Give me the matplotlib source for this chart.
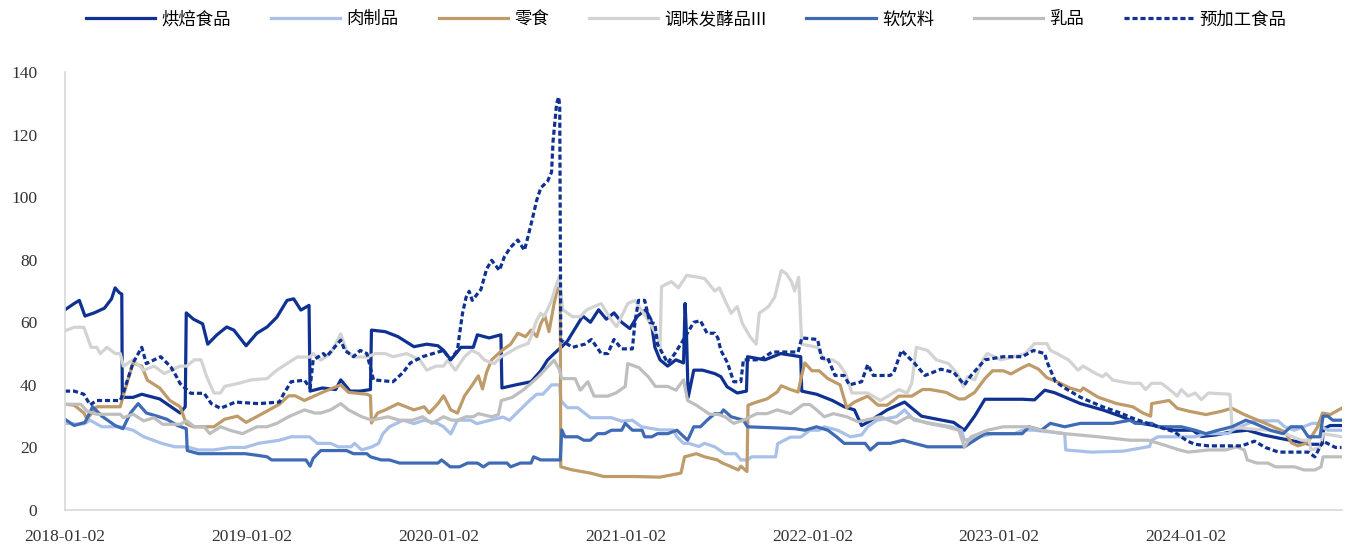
import matplotlib
matplotlib.use("Agg")
import matplotlib.pyplot as plt
import matplotlib.dates as mdates
import pandas as pd

# ---------------- data ----------------
bakery = [("2018-01-02",64),("2018-01-20",66),("2018-01-30",67),("2018-02-10",62),("2018-02-28",63),
("2018-03-20",64.5),("2018-04-03",67.5),("2018-04-10",71),("2018-04-18",69.5),("2018-04-23",69),("2018-04-24",36),
("2018-05-15",36),("2018-06-01",37),("2018-07-06",35.5),("2018-08-15",31),("2018-08-25",33),("2018-08-27",63),
("2018-09-10",61),("2018-09-28",59.5),("2018-10-08",53),("2018-10-26",56),("2018-11-14",58.5),("2018-11-28",57.5),
("2018-12-22",52.5),("2019-01-12",56.5),("2019-02-01",58.5),("2019-02-20",61.6),("2019-03-12",67),("2019-03-25",67.5),
("2019-04-08",63.9),("2019-04-24",65.4),("2019-04-26",38),("2019-05-20",39),("2019-06-15",38.5),("2019-06-25",41.6),
("2019-07-13",38),("2019-08-02",38),("2019-08-22",38.5),("2019-08-24",57.5),("2019-09-20",57),("2019-10-15",55.4),
("2019-11-15",52.2),("2019-12-10",53),("2020-01-01",52.5),("2020-01-12",51),("2020-01-26",48),("2020-02-15",52),
("2020-03-10",52),("2020-03-18",56),("2020-04-10",55),("2020-05-03",56),("2020-05-05",39),("2020-06-01",40),
("2020-07-01",41),("2020-07-20",44.5),("2020-08-02",47.9),("2020-08-15",50),("2020-08-30",52.2),("2020-09-10",54),
("2020-09-25",58),("2020-10-10",62),("2020-10-25",60),("2020-11-10",64),("2020-11-25",61),("2020-12-10",63),
("2020-12-25",60),("2021-01-10",58),("2021-01-25",62),("2021-02-10",64),("2021-02-20",61),("2021-02-28",52),
("2021-03-10",48),("2021-03-25",46),("2021-04-10",48),("2021-04-25",47),("2021-04-28",66),("2021-05-01",55),
("2021-05-04",36),("2021-05-15",44.7),("2021-06-01",44.7),("2021-06-25",43.6),("2021-07-07",42.6),("2021-07-19",39.4),
("2021-08-08",37.4),("2021-08-26",38),("2021-08-28",49),("2021-10-01",48),("2021-11-01",50),("2021-12-10",49),
("2021-12-12",38),("2022-01-10",37),("2022-02-10",35),("2022-03-05",33),("2022-03-25",32),("2022-04-08",27),
("2022-04-25",28.5),("2022-05-28",32),("2022-07-01",34.5),("2022-08-03",30),("2022-09-03",29),("2022-10-05",28),
("2022-10-26",25.5),("2022-11-15",30),("2022-12-05",35.4),("2023-02-16",35.4),("2023-03-12",35.2),("2023-04-01",38.3),
("2023-04-20",37.5),("2023-06-10",34),("2023-07-23",32),("2023-08-27",30),("2023-09-25",28),("2023-11-01",27),
("2023-12-10",25.5),("2024-01-15",25.5),("2024-02-01",23.5),("2024-03-01",24),("2024-04-01",25),("2024-05-01",25.5),
("2024-06-01",24),("2024-07-01",23),("2024-08-01",22),("2024-09-01",21),("2024-09-24",21),("2024-09-27",26),
("2024-10-10",27),("2024-11-01",27)]

meat = [("2018-01-02",27.7),("2018-01-20",27.5),("2018-02-08",27.5),("2018-02-20",28.7),("2018-03-15",26.6),
("2018-04-20",26.6),("2018-05-15",25.5),("2018-06-05",23.4),("2018-07-10",21.3),("2018-08-05",20.2),("2018-08-28",20.2),
("2018-09-20",19.2),("2018-10-20",19.2),("2018-11-20",20),("2018-12-20",20),("2019-01-15",21.3),("2019-02-25",22.3),
("2019-03-20",23.4),("2019-04-25",23.4),("2019-05-10",21.3),("2019-06-05",21.3),("2019-06-20",20.2),("2019-07-15",20.2),
("2019-07-22",21.3),("2019-08-05",19.2),("2019-08-25",20.2),("2019-09-07",21.3),("2019-09-15",24.3),("2019-09-28",26.6),
("2019-10-25",28.7),("2019-11-15",27.6),("2019-12-05",28.7),("2020-01-01",27.6),("2020-01-12",26.6),("2020-01-26",24.3),
("2020-02-08",28.7),("2020-03-05",28.7),("2020-03-17",27.6),("2020-04-12",28.7),("2020-05-07",29.7),("2020-05-20",28.7),
("2020-06-08",31.8),("2020-06-28",35),("2020-07-12",37),("2020-07-24",37),("2020-08-10",40),("2020-08-26",40),
("2020-08-28",35),("2020-09-10",32.7),("2020-09-30",32.7),("2020-10-25",29.5),("2020-12-05",29.5),("2020-12-25",28.4),
("2021-01-15",28.7),("2021-02-02",26.6),("2021-03-10",25.6),("2021-04-05",25.6),("2021-04-12",23.4),("2021-04-25",21.3),
("2021-05-05",21.3),("2021-05-25",20.3),("2021-06-05",21.3),("2021-06-25",20.2),("2021-07-15",18),("2021-08-05",18),
("2021-08-15",16),("2021-08-28",16),("2021-09-05",17),("2021-10-22",17),("2021-10-26",21.2),("2021-11-20",23.3),
("2021-12-10",23.3),("2021-12-28",25.5),("2022-01-15",25.5),("2022-01-25",26.6),("2022-02-20",25.5),("2022-03-17",23.4),
("2022-04-08",24),("2022-04-20",26.6),("2022-05-08",28.7),("2022-06-15",29.8),("2022-07-01",32),("2022-07-20",28.7),
("2022-08-25",27.6),("2022-09-30",26.6),("2022-10-20",25.5),("2022-10-26",22.3),("2022-11-25",23.4),("2022-12-20",24.4),
("2023-02-01",24.4),("2023-02-16",25.5),("2023-03-12",25.5),("2023-05-10",24.4),("2023-05-12",19.2),("2023-07-01",18.5),
("2023-09-01",18.8),("2023-10-23",20.3),("2023-10-27",22.3),("2023-11-08",23.4),("2024-01-20",23.4),("2024-02-10",24.4),
("2024-03-25",24.4),("2024-04-01",25.5),("2024-05-15",28.5),("2024-06-30",28.5),("2024-07-13",26.6),("2024-08-01",25.5),
("2024-09-05",27.7),("2024-09-15",27.7),("2024-09-23",26.6),("2024-10-05",25.5),("2024-11-01",25.5)]

snack = [("2018-01-02",33.8),("2018-01-20",33.5),("2018-02-08",31),("2018-02-14",29),("2018-03-05",33),
("2018-04-20",33),("2018-04-25",36),("2018-05-15",47),("2018-06-01",46),("2018-06-12",41.5),("2018-07-06",39),
("2018-07-26",35),("2018-08-15",33),("2018-08-27",27.6),("2018-09-10",26.6),("2018-10-20",26.6),("2018-11-10",29),
("2018-12-05",30),("2018-12-22",28),("2019-01-25",31),("2019-02-25",33.8),("2019-03-15",36.5),("2019-03-28",36.5),
("2019-04-15",35),("2019-05-20",37.6),("2019-06-25",40),("2019-07-10",37.6),("2019-08-15",37),("2019-08-22",36.5),
("2019-08-24",27.8),("2019-09-05",31),("2019-09-20",32),("2019-10-15",34),("2019-11-15",32),("2019-12-05",33),
("2019-12-15",31),("2020-01-01",34),("2020-01-12",36.5),("2020-01-26",32),("2020-02-08",31),("2020-02-22",36.5),
("2020-03-07",39.7),("2020-03-20",42.9),("2020-03-28",38.7),("2020-04-05",44),("2020-04-15",48),("2020-05-05",51),
("2020-05-22",53),("2020-06-05",56.5),("2020-06-20",55.4),("2020-07-01",57.5),("2020-07-12",55.4),("2020-07-20",59.6),
("2020-07-28",62),("2020-08-05",57),("2020-08-15",66),("2020-08-22",71),("2020-08-27",70),("2020-08-28",13.8),
("2020-09-20",12.8),("2020-10-25",11.8),("2020-11-20",10.7),("2021-01-20",10.7),("2021-03-10",10.5),("2021-04-20",11.8),
("2021-04-27",17),("2021-05-20",18),("2021-06-05",17),("2021-06-30",16),("2021-07-10",15),("2021-07-25",14),
("2021-08-10",12.8),("2021-08-15",14),("2021-08-27",12.3),("2021-08-29",33.5),("2021-09-15",34.5),("2021-10-05",35.5),
("2021-10-25",37.7),("2021-11-02",39.7),("2021-11-20",38.5),("2021-12-05",37.7),("2021-12-12",43),("2021-12-18",47),
("2022-01-01",44.5),("2022-01-15",44.5),("2022-02-01",42),("2022-02-25",40),("2022-03-10",32.7),("2022-03-25",34.5),
("2022-04-20",36.4),("2022-05-10",33.5),("2022-05-28",33.5),("2022-06-20",36.4),("2022-07-15",36.4),("2022-08-05",38.5),
("2022-08-20",38.5),("2022-09-20",37.6),("2022-10-15",35.5),("2022-10-26",35.5),("2022-11-15",37.6),("2022-12-05",42),
("2022-12-20",44.5),("2023-01-10",44.5),("2023-01-25",43.5),("2023-02-16",45.5),("2023-03-01",46.5),("2023-03-20",45),
("2023-04-05",42.3),("2023-04-25",41),("2023-05-20",39),("2023-06-10",38),("2023-06-15",39),("2023-07-15",36),
("2023-08-20",34),("2023-09-20",33),("2023-10-10",31),("2023-10-25",30),("2023-10-27",34),("2023-11-30",35),
("2023-12-16",32.5),("2024-01-10",31.5),("2024-02-10",30.5),("2024-03-10",31.5),("2024-04-01",32.5),("2024-04-25",30.5),
("2024-06-01",28),("2024-07-13",25),("2024-07-26",21.5),("2024-08-08",20.5),("2024-08-27",21.5),("2024-09-15",26.5),
("2024-09-25",31),("2024-10-10",30.5),("2024-11-01",32.5)]

seasoning = [("2018-01-02",57.3),("2018-01-20",58.4),("2018-02-08",58.4),("2018-02-22",52),("2018-03-05",52),
("2018-03-12",50),("2018-03-25",52),("2018-04-10",50),("2018-04-20",50),("2018-04-26",46),("2018-05-15",48),
("2018-06-05",44.7),("2018-06-25",46),("2018-07-15",43.6),("2018-08-15",46),("2018-08-28",46),("2018-09-12",48),
("2018-09-25",48),("2018-10-06",42.6),("2018-10-20",37.4),("2018-11-02",37.4),("2018-11-10",39.5),("2018-12-10",40.6),
("2019-01-01",41.6),("2019-02-01",42),("2019-02-20",44.7),("2019-03-12",46.8),("2019-04-01",48.9),("2019-04-26",48.9),
("2019-05-02",50),("2019-05-17",47.9),("2019-06-05",50),("2019-06-25",56.3),("2019-07-06",51),("2019-07-20",48.9),
("2019-08-15",48.9),("2019-09-01",50),("2019-09-20",50),("2019-10-05",49),("2019-11-01",50),("2019-11-27",47.9),
("2019-12-10",44.7),("2019-12-28",46),("2020-01-12",46),("2020-01-20",47.9),("2020-02-04",44.7),("2020-02-22",49),
("2020-03-07",51),("2020-03-20",50),("2020-04-01",47.9),("2020-04-20",46.8),("2020-05-03",49),("2020-05-15",50),
("2020-06-05",52),("2020-06-25",53.2),("2020-07-01",55.4),("2020-07-12",60.7),("2020-07-20",62.9),("2020-07-26",61.8),
("2020-08-02",64),("2020-08-10",67),("2020-08-18",71.3),("2020-08-25",74.5),("2020-09-01",64),("2020-09-20",61.8),
("2020-10-05",61.8),("2020-10-18",64),("2020-11-15",66),("2020-12-05",60.7),("2020-12-15",58.6),("2021-01-06",66),
("2021-01-20",67),("2021-02-15",60.7),("2021-03-05",55.4),("2021-03-10",52),("2021-03-13",71.4),("2021-04-01",73),
("2021-04-15",71),("2021-05-01",75),("2021-05-20",74.5),("2021-06-05",74),("2021-06-25",70),("2021-07-04",71),
("2021-07-15",67),("2021-07-27",62.9),("2021-08-08",65),("2021-08-18",59.6),("2021-09-02",55.4),("2021-09-14",53),
("2021-09-20",62.9),("2021-10-08",65),("2021-10-20",68),("2021-11-02",76.6),("2021-11-12",75.5),("2021-11-22",73),
("2021-11-28",70),("2021-12-06",74.4),("2021-12-12",53),("2022-01-12",52),("2022-01-25",48),("2022-02-10",48),
("2022-02-22",46.8),("2022-03-08",43.6),("2022-03-20",37.4),("2022-04-20",37.4),("2022-05-15",35),("2022-06-20",38.5),
("2022-07-06",37.4),("2022-07-15",40.5),("2022-07-24",52),("2022-08-15",51),("2022-09-01",48),("2022-09-25",46.8),
("2022-10-12",43.6),("2022-10-24",39.5),("2022-11-01",42.6),("2022-11-15",41.6),("2022-12-01",48),("2022-12-10",50),
("2023-01-05",48),("2023-02-01",49),("2023-02-22",50),("2023-03-12",53.2),("2023-04-05",53.2),("2023-04-12",51),
("2023-04-25",50),("2023-05-18",47.9),("2023-06-05",44.7),("2023-06-15",46),("2023-07-10",43.6),("2023-07-23",42.6),
("2023-07-30",43.6),("2023-08-12",41.5),("2023-09-15",40.5),("2023-10-05",40.5),("2023-10-15",38.5),("2023-10-27",40.5),
("2023-11-15",40.5),("2023-12-01",38.5),("2023-12-16",36.4),("2023-12-24",38.5),("2024-01-06",36.4),("2024-01-20",37.4),
("2024-02-01",35.3),("2024-02-15",37.4),("2024-03-28",37),("2024-04-01",26.6),("2024-05-01",26),("2024-06-10",25.5),
("2024-07-13",24.4),("2024-08-15",22.3),("2024-08-30",22.3),("2024-09-02",19.2),("2024-09-20",20),("2024-09-26",24.4),
("2024-11-01",23.4)]

softdrink = [("2018-01-02",29),("2018-01-20",27),("2018-02-10",28),("2018-02-25",33),("2018-03-15",30),
("2018-04-10",27),("2018-04-25",26),("2018-05-10",31),("2018-05-25",34),("2018-06-10",31),("2018-07-01",30),
("2018-07-20",29),("2018-08-10",27),("2018-08-27",26),("2018-08-29",19),("2018-09-20",18),("2018-12-20",18),
("2019-01-12",17.5),("2019-02-01",17),("2019-02-10",16),("2019-04-18",16),("2019-04-26",14),("2019-05-02",16.5),
("2019-05-17",19),("2019-07-06",19),("2019-07-20",18),("2019-08-15",18),("2019-08-22",17),("2019-09-12",16),
("2019-09-28",16),("2019-10-18",15),("2020-01-01",15),("2020-01-08",16),("2020-01-25",13.8),("2020-02-12",13.8),
("2020-02-28",15),("2020-03-18",15),("2020-03-30",13.8),("2020-04-10",15),("2020-05-15",15),("2020-05-22",13.8),
("2020-06-10",15),("2020-07-01",15),("2020-07-06",17),("2020-07-20",16),("2020-08-27",16),("2020-08-30",25.6),
("2020-09-05",23.4),("2020-09-30",23.4),("2020-10-12",22.3),("2020-10-25",22.3),("2020-11-08",24.4),("2020-11-22",24.4),
("2020-12-05",25.5),("2020-12-25",25.5),("2021-01-01",27.7),("2021-01-15",25.5),("2021-02-03",25.5),("2021-02-08",23.4),
("2021-02-22",23.4),("2021-03-05",24.4),("2021-03-25",24.4),("2021-04-12",25.5),("2021-05-03",22.3),("2021-05-15",26.6),
("2021-05-28",26.6),("2021-06-10",28.7),("2021-06-25",30.8),("2021-07-07",30.8),("2021-07-12",32),("2021-07-27",29.8),
("2021-08-20",28.7),("2021-08-28",26.6),("2021-11-28",26),("2021-12-18",25.5),("2022-01-10",26.6),("2022-02-01",25.5),
("2022-02-18",23.4),("2022-03-05",21.3),("2022-04-15",21.3),("2022-04-25",19.2),("2022-05-10",21.3),("2022-06-03",21.3),
("2022-06-28",22.3),("2022-07-20",21.3),("2022-08-15",20.2),("2022-10-26",20.2),("2022-11-15",22.3),("2022-12-05",24.4),
("2023-02-16",24.4),("2023-03-01",26.6),("2023-03-25",25.5),("2023-04-12",27.7),("2023-05-10",26.6),("2023-06-10",27.7),
("2023-08-12",27.7),("2023-09-15",28.7),("2023-09-25",27.7),("2023-10-27",27.7),("2023-11-08",26.6),("2023-12-24",26.6),
("2024-01-20",25.5),("2024-02-10",24.4),("2024-03-05",25.5),("2024-04-01",26.6),("2024-04-28",28.7),("2024-05-15",27.7),
("2024-06-15",25.5),("2024-07-10",24.4),("2024-07-25",26.6),("2024-08-15",26.6),("2024-08-28",23.4),("2024-09-20",23.4),
("2024-09-26",30),("2024-10-05",30),("2024-10-15",28.7),("2024-11-01",28.7)]

dairy = [("2018-01-02",33.8),("2018-02-02",33.8),("2018-02-14",31.6),("2018-03-05",30.6),("2018-04-20",30.6),
("2018-04-26",29.5),("2018-05-15",30.6),("2018-06-05",28.5),("2018-06-25",29.5),("2018-07-12",27.4),("2018-08-15",27.4),
("2018-08-28",28.5),("2018-09-12",26.6),("2018-10-01",26.6),("2018-10-12",24.4),("2018-11-02",26.6),("2018-11-20",25.5),
("2018-12-15",24.4),("2019-01-12",26.6),("2019-02-01",26.6),("2019-02-20",27.7),("2019-03-15",29.8),("2019-04-15",32),
("2019-05-05",31),("2019-05-17",31),("2019-06-05",32),("2019-06-25",34),("2019-07-10",32),("2019-08-05",29.8),
("2019-08-25",28.7),("2019-09-25",29.8),("2019-10-18",28.7),("2019-11-12",28.7),("2019-12-02",29.8),("2019-12-20",27.7),
("2020-01-12",29.8),("2020-01-28",28.7),("2020-02-08",28.7),("2020-02-25",29.8),("2020-03-10",29.8),("2020-03-20",30.8),
("2020-04-15",29.8),("2020-04-28",30.5),("2020-05-04",35),("2020-05-25",36),("2020-06-15",38.3),("2020-07-01",40.5),
("2020-07-15",42.6),("2020-08-01",45.5),("2020-08-15",47.9),("2020-08-25",45),("2020-08-30",42),("2020-09-25",42),
("2020-10-05",38.3),("2020-10-20",41),("2020-11-01",36.4),("2020-11-28",36.4),("2020-12-15",37.5),("2021-01-01",39.5),
("2021-01-06",46.8),("2021-01-28",45.5),("2021-02-15",42.6),("2021-03-01",39.5),("2021-03-25",39.5),("2021-04-10",38.3),
("2021-04-25",41.6),("2021-05-03",35),("2021-05-20",33.5),("2021-06-15",30.6),("2021-07-01",30.6),("2021-07-15",29.8),
("2021-08-01",27.7),("2021-08-20",28.7),("2021-09-15",30.8),("2021-10-05",30.8),("2021-10-25",32),("2021-11-20",30.8),
("2021-12-15",33.7),("2021-12-28",33.7),("2022-01-10",32),("2022-01-25",29.8),("2022-02-12",30.8),("2022-03-10",29.8),
("2022-04-01",28.2),("2022-05-15",29.8),("2022-06-15",27.7),("2022-07-08",29.8),("2022-08-15",27.7),("2022-09-20",26.6),
("2022-10-15",25.5),("2022-10-26",20.2),("2022-11-08",23.4),("2022-12-10",25.5),("2023-01-10",26.6),("2023-02-28",26.6),
("2023-03-25",25.5),("2023-05-10",24.4),("2023-07-15",23.4),("2023-09-15",22.3),("2023-10-20",22.3),("2023-11-10",21.3),
("2023-12-01",20.2),("2023-12-20",19.2),("2024-01-06",18.5),("2024-02-15",19.2),("2024-03-20",19.2),("2024-04-10",20.2),
("2024-04-25",19.2),("2024-05-01",16),("2024-05-20",15),("2024-06-10",15),("2024-06-25",13.8),("2024-08-01",13.8),
("2024-08-20",12.8),("2024-09-10",12.8),("2024-09-22",13.8),("2024-09-26",17),("2024-11-01",17)]

preproc = [("2018-01-02",38),("2018-01-20",38),("2018-02-08",37),("2018-02-20",33.6),("2018-03-05",35),
("2018-04-20",35),("2018-04-25",37),("2018-05-15",47),("2018-06-01",52),("2018-06-10",46.8),("2018-07-08",49),
("2018-07-28",45.7),("2018-08-08",42.6),("2018-08-15",40.4),("2018-09-05",37.3),("2018-10-01",37.3),("2018-10-15",34),
("2018-11-02",32.5),("2018-12-01",34.5),("2019-01-15",34),("2019-02-25",34.5),("2019-03-05",37),("2019-03-20",41),
("2019-04-15",41.5),("2019-04-26",39),("2019-05-02",47.9),("2019-05-22",50),("2019-05-28",49),("2019-06-25",54.3),
("2019-07-03",51),("2019-07-20",49),("2019-08-02",51),("2019-08-15",50),("2019-08-28",41.6),("2019-10-05",41),
("2019-10-12",42),("2019-10-25",44),("2019-11-08",47),("2019-12-02",49),("2019-12-22",50),("2020-01-12",51),
("2020-01-25",48),("2020-02-08",51),("2020-02-12",56),("2020-02-18",62.9),("2020-02-25",68),("2020-03-02",69.9),
("2020-03-08",67),("2020-03-25",70.5),("2020-04-05",77),("2020-04-15",79.8),("2020-04-30",76.6),("2020-05-10",81),
("2020-05-22",84),("2020-06-05",86.3),("2020-06-18",83),("2020-06-25",87.4),("2020-07-03",92.7),("2020-07-12",99),
("2020-07-20",103),("2020-08-02",105),("2020-08-10",108),("2020-08-13",118),("2020-08-20",130),("2020-08-24",132),
("2020-08-26",129),("2020-08-28",54.3),("2020-09-20",52),("2020-10-14",53),("2020-10-27",54.5),("2020-11-15",50),
("2020-11-28",50),("2020-12-10",54.5),("2020-12-25",51.5),("2021-01-15",51.5),("2021-01-20",60),("2021-01-27",67),
("2021-02-08",67),("2021-02-18",60),("2021-02-28",59.6),("2021-03-05",53),("2021-03-25",47),("2021-04-08",50),
("2021-04-27",55),("2021-05-15",60),("2021-05-28",60.5),("2021-06-10",56.5),("2021-06-25",56.5),("2021-07-01",55),
("2021-07-07",51),("2021-07-20",47),("2021-08-01",41),("2021-08-15",41),("2021-08-20",48),("2021-09-22",48),
("2021-10-15",50.5),("2021-12-05",50.5),("2021-12-12",55),("2022-01-12",54.5),("2022-01-20",48.5),("2022-02-01",48.5),
("2022-02-15",43),("2022-03-05",43),("2022-03-15",40),("2022-04-08",41),("2022-04-20",46.5),("2022-05-01",43),
("2022-06-03",43),("2022-06-10",44),("2022-06-25",51),("2022-07-20",47),("2022-08-10",43),("2022-09-10",45),
("2022-10-05",44),("2022-10-26",40),("2022-11-08",43),("2022-12-05",48),("2023-01-10",49),("2023-02-16",49),
("2023-03-10",51),("2023-04-01",50),("2023-04-05",47.5),("2023-04-22",41),("2023-05-10",39),("2023-06-10",36),
("2023-07-23",33),("2023-08-27",31),("2023-09-25",29),("2023-11-01",27),("2023-12-10",25),("2024-01-05",22),
("2024-01-20",21),("2024-02-15",20.5),("2024-04-20",20.5),("2024-05-15",22),("2024-06-05",20),("2024-07-01",18.5),
("2024-08-28",18.5),("2024-09-10",17),("2024-09-26",22),("2024-10-20",20),("2024-11-01",20)]

names = ["烘焙食品", "肉制品", "零食", "调味发酵品III", "软饮料", "乳品", "预加工食品"]
tick_dates = ["2018-01-02", "2019-01-02", "2020-01-02", "2021-01-02", "2022-01-02", "2023-01-02", "2024-01-02"]
y_ticks = [0, 20, 40, 60, 80, 100, 120, 140]

# ---------------- styling ----------------
colors = ["#0E3192", "#A9C1E8", "#BF9B6A", "#D3D3D3", "#3F6BB5", "#BEBEBE", "#0E3192"]
styles = ["-", "-", "-", "-", "-", "-", (0, (1.6, 0.9))]
all_series = [bakery, meat, snack, seasoning, softdrink, dairy, preproc]

plt.rcParams["font.family"] = ["Liberation Serif", "Noto Sans CJK SC", "DejaVu Sans"]

fig = plt.figure(figsize=(13.51, 5.5), dpi=100)
ax = fig.add_axes([65 / 1351, 40 / 550, (1342 - 65) / 1351, (510 - 72) / 550])

handles = []
for name, data, c, ls in zip(names, all_series, colors, styles):
    d = pd.to_datetime([p[0] for p in data])
    v = [p[1] for p in data]
    h, = ax.plot(d, v, color=c, lw=2.3, ls=ls, label=name, solid_joinstyle="round")
    handles.append(h)

ax.set_ylim(0, 140)
ax.set_yticks(y_ticks)
ax.set_xlim(pd.Timestamp("2018-01-02"), pd.Timestamp("2024-11-02"))
ax.set_xticks(pd.to_datetime(tick_dates))
ax.xaxis.set_major_formatter(mdates.DateFormatter("%Y-%m-%d"))
ax.tick_params(axis="both", length=0, labelsize=12.5, colors="#333333")
ax.tick_params(axis="y", pad=20)
ax.tick_params(axis="x", pad=14)
for s in ["top", "right"]:
    ax.spines[s].set_visible(False)
for s in ["left", "bottom"]:
    ax.spines[s].set_color("#D9D9D9")
    ax.spines[s].set_linewidth(1.2)

fig.legend(handles=handles, loc="center", bbox_to_anchor=(0.508, 0.965), ncol=7, frameon=False,
           prop={"family": ["Noto Sans CJK SC", "DejaVu Sans"], "size": 12.5},
           handlelength=4.0, handletextpad=0.35, columnspacing=2.3)

fig.savefig("out.png", dpi=100)
